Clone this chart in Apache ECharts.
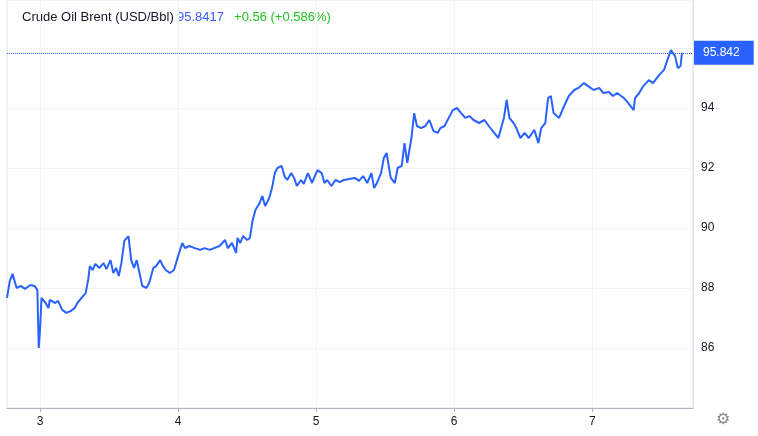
<!DOCTYPE html>
<html>
<head>
<meta charset="utf-8">
<script src="https://cdn.jsdelivr.net/npm/echarts@6/dist/echarts.min.js"></script>
<style>
  html, body { margin: 0; padding: 0; background: #fff; }
  #chart { width: 758px; height: 436px; }
</style>
</head>
<body>
<div id="chart"></div>
<script>
// day of month (fractional) and price
const days = [2.76,2.78,2.80,2.83,2.86,2.89,2.93,2.96,2.98,2.99,3.00,3.01,3.04,3.06,3.07,3.11,3.13,3.16,3.19,3.22,3.25,3.27,3.30,3.33,3.35,3.36,3.38,3.40,3.43,3.46,3.48,3.51,3.53,3.55,3.57,3.59,3.61,3.64,3.66,3.68,3.70,3.72,3.74,3.77,3.79,3.82,3.84,3.87,3.89,3.91,3.94,3.97,4.00,4.03,4.05,4.08,4.12,4.16,4.19,4.23,4.26,4.30,4.34,4.36,4.39,4.42,4.43,4.45,4.47,4.50,4.52,4.54,4.56,4.59,4.61,4.63,4.66,4.68,4.70,4.72,4.75,4.77,4.79,4.82,4.84,4.86,4.89,4.91,4.94,4.97,4.99,5.01,5.04,5.06,5.08,5.11,5.14,5.17,5.20,5.24,5.28,5.31,5.34,5.37,5.40,5.42,5.44,5.47,5.49,5.51,5.54,5.57,5.59,5.62,5.64,5.66,5.69,5.71,5.73,5.76,5.79,5.82,5.85,5.88,5.90,5.93,5.96,5.99,6.02,6.05,6.08,6.11,6.14,6.18,6.22,6.25,6.29,6.32,6.36,6.38,6.40,6.43,6.45,6.48,6.51,6.54,6.58,6.61,6.63,6.66,6.68,6.70,6.72,6.76,6.79,6.83,6.87,6.90,6.94,6.97,7.01,7.05,7.08,7.12,7.15,7.18,7.21,7.23,7.26,7.30,7.31,7.34,7.37,7.41,7.44,7.48,7.52,7.55,7.57,7.60,7.62,7.64,7.65];
const prices = [87.67,88.23,88.47,88.00,88.07,87.97,88.10,88.07,87.93,86.00,86.67,87.67,87.50,87.33,87.60,87.50,87.57,87.27,87.17,87.23,87.33,87.50,87.67,87.83,88.33,88.73,88.60,88.80,88.67,88.83,88.63,88.93,88.50,88.67,88.40,88.87,89.57,89.73,88.93,88.67,88.93,88.50,88.07,88.00,88.17,88.67,88.73,88.93,88.73,88.60,88.50,88.60,89.07,89.50,89.33,89.40,89.33,89.27,89.33,89.27,89.33,89.40,89.60,89.33,89.50,89.17,89.67,89.50,89.73,89.60,89.67,90.27,90.60,90.83,91.07,90.73,91.00,91.33,91.83,92.00,92.07,91.73,91.60,91.83,91.67,91.40,91.60,91.47,91.83,91.50,91.73,91.93,91.83,91.50,91.60,91.40,91.60,91.53,91.60,91.63,91.67,91.57,91.73,91.50,91.83,91.33,91.50,91.83,92.33,92.50,91.67,91.50,92.00,92.07,92.83,92.17,93.00,93.83,93.40,93.33,93.40,93.60,93.23,93.17,93.33,93.40,93.67,93.93,94.00,93.83,93.67,93.73,93.60,93.50,93.60,93.40,93.17,93.00,93.67,94.27,93.67,93.50,93.33,93.00,93.17,93.00,93.27,92.83,93.33,93.50,94.33,94.40,93.83,93.67,94.00,94.40,94.60,94.67,94.83,94.73,94.60,94.67,94.50,94.53,94.40,94.50,94.40,94.33,94.17,93.93,94.33,94.50,94.73,94.93,94.83,95.07,95.27,95.67,95.93,95.73,95.33,95.40,95.8417];
const dayTicks = [3, 4, 5, 6, 7];
const lastPrice = 95.8417;
const change = '+0.56 (+0.586%)';

const chart = echarts.init(document.getElementById('chart'));
const blue = '#2962ff';
const font = 'Arial, "Liberation Sans", sans-serif';

chart.setOption({
  animation: false,
  textStyle: { fontFamily: font },
  grid: { left: 7, right: 65, top: 0, bottom: 28, show: true, borderColor: '#e0e3eb', borderWidth: 1 },
  graphic: [
    {
      type: 'text', left: 22, top: 11,
      style: {
        text: '{a|Crude Oil Brent (USD/Bbl)} {b|' + lastPrice + '}   {c|' + change + '}',
        rich: {
          a: { fill: '#131722', fontSize: 13, fontFamily: font },
          b: { fill: '#3b5cff', fontSize: 13, fontFamily: font },
          c: { fill: '#22c322', fontSize: 13, fontFamily: font }
        }
      }
    },
    { type: 'text', left: 716, top: 412, style: { text: '⚙', fill: '#888', fontSize: 16 } }
  ],
  xAxis: {
    type: 'value',
    min: 2.76,
    max: 7.73,
    axisLine: { show: true, lineStyle: { color: '#b2b5be' } },
    axisTick: { show: true, customValues: dayTicks, length: 4, lineStyle: { color: '#b2b5be' } },
    axisLabel: { customValues: dayTicks, color: '#131722', fontSize: 12, margin: 8 },
    splitLine: { show: true, lineStyle: { color: '#f0f3fa' } }
  },
  yAxis: {
    type: 'value',
    position: 'right',
    min: 84,
    max: 97.6,
    interval: 2,
    axisLine: { show: true, lineStyle: { color: '#e0e3eb' } },
    axisTick: { show: false },
    axisLabel: {
      color: '#131722', fontSize: 12, margin: 8,
      formatter: v => (v === 84 || v === 96 || v > 96.5) ? '' : String(v)
    },
    splitLine: { show: true, lineStyle: { color: '#f0f3fa' } }
  },
  series: [{
    type: 'line',
    data: days.map((d, i) => [d, prices[i]]),
    showSymbol: false,
    lineStyle: { color: blue, width: 2 },
    markLine: {
      symbol: 'none',
      silent: true,
      data: [{ yAxis: lastPrice }],
      lineStyle: { color: blue, type: 'dotted', width: 1 },
      label: {
        position: 'end',
        formatter: lastPrice.toFixed(3),
        backgroundColor: blue,
        color: '#fff',
        fontSize: 12,
        padding: [6, 14, 6, 9],
        distance: 1
      }
    }
  }]
});
</script>
</body>
</html>
